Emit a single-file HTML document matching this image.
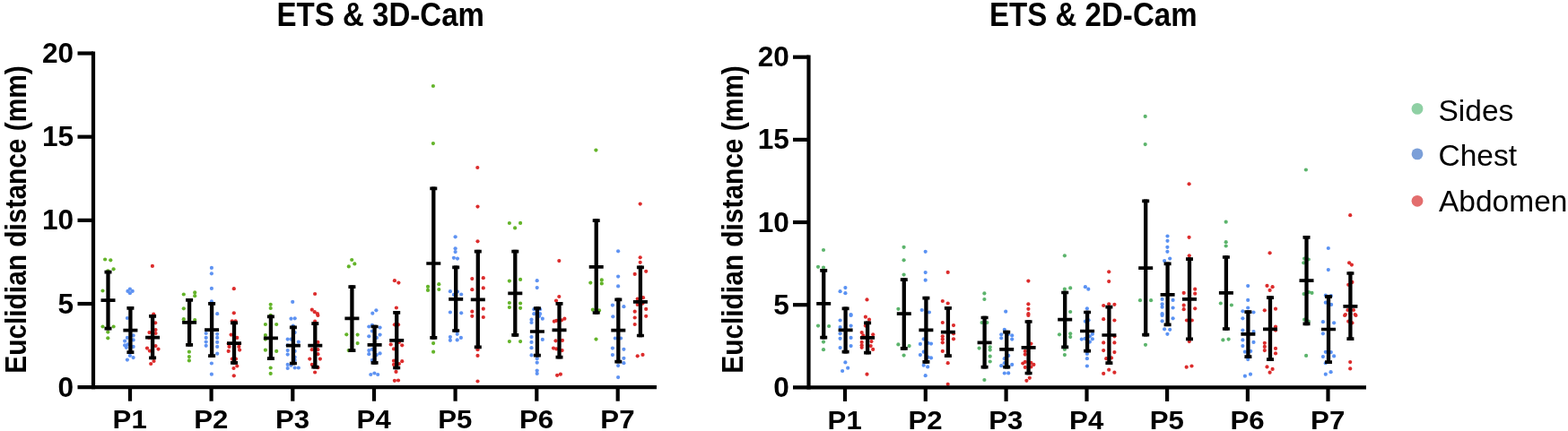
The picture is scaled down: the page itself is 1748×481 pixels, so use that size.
<!DOCTYPE html>
<html lang="en"><head><meta charset="utf-8"><title>ETS &amp; 3D-Cam / ETS &amp; 2D-Cam</title>
<style>html,body{margin:0;padding:0;background:#fff;overflow:hidden}svg{display:block}</style></head>
<body>
<svg width="1748" height="481" viewBox="0 0 1748 481">
<g>
<rect width="1748" height="481" fill="#fff"/>
<g id="left">
<g fill="#64b42a">
<circle cx="114.5" cy="364.5" r="2.1"/>
<circle cx="126.6" cy="364.5" r="2.1"/>
<circle cx="120.3" cy="370.6" r="2.1"/>
<circle cx="120.3" cy="377.3" r="2.1"/>
<circle cx="204.8" cy="356.2" r="2.1"/>
<circle cx="217.2" cy="357.0" r="2.1"/>
<circle cx="210.9" cy="392.7" r="2.1"/>
<circle cx="210.9" cy="398.1" r="2.1"/>
<circle cx="210.9" cy="402.4" r="2.1"/>
<circle cx="295.9" cy="362.0" r="2.1"/>
<circle cx="308.2" cy="362.0" r="2.1"/>
<circle cx="295.9" cy="374.1" r="2.1"/>
<circle cx="295.9" cy="378.6" r="2.1"/>
<circle cx="295.9" cy="390.7" r="2.1"/>
<circle cx="308.2" cy="391.9" r="2.1"/>
<circle cx="301.7" cy="410.5" r="2.1"/>
<circle cx="301.7" cy="416.9" r="2.1"/>
<circle cx="117.1" cy="289.5" r="2.1"/>
<circle cx="123.3" cy="290.3" r="2.1"/>
<circle cx="126.6" cy="300.3" r="2.1"/>
<circle cx="120.3" cy="302.3" r="2.1"/>
<circle cx="114.5" cy="324.5" r="2.1"/>
<circle cx="204.8" cy="328.5" r="2.1"/>
<circle cx="217.2" cy="326.4" r="2.1"/>
<circle cx="217.2" cy="330.2" r="2.1"/>
<circle cx="204.8" cy="344.3" r="2.1"/>
<circle cx="301.7" cy="339.8" r="2.1"/>
<circle cx="301.7" cy="344.0" r="2.1"/>
<circle cx="301.7" cy="351.8" r="2.1"/>
<circle cx="386.3" cy="373.3" r="2.1"/>
<circle cx="398.6" cy="373.6" r="2.1"/>
<circle cx="398.6" cy="383.1" r="2.1"/>
<circle cx="388.7" cy="391.1" r="2.1"/>
<circle cx="483.1" cy="383.1" r="2.1"/>
<circle cx="483.1" cy="392.7" r="2.1"/>
<circle cx="567.9" cy="381.1" r="2.1"/>
<circle cx="580.1" cy="381.1" r="2.1"/>
<circle cx="392.2" cy="290.0" r="2.1"/>
<circle cx="395.3" cy="294.4" r="2.1"/>
<circle cx="388.8" cy="297.4" r="2.1"/>
<circle cx="489.3" cy="317.2" r="2.1"/>
<circle cx="477.0" cy="319.9" r="2.1"/>
<circle cx="477.0" cy="323.9" r="2.1"/>
<circle cx="489.3" cy="323.0" r="2.1"/>
<circle cx="580.1" cy="311.9" r="2.1"/>
<circle cx="567.9" cy="313.6" r="2.1"/>
<circle cx="567.9" cy="338.0" r="2.1"/>
<circle cx="580.1" cy="338.5" r="2.1"/>
<circle cx="567.9" cy="343.0" r="2.1"/>
<circle cx="580.1" cy="343.8" r="2.1"/>
<circle cx="664.5" cy="378.6" r="2.1"/>
<circle cx="670.8" cy="312.4" r="2.1"/>
<circle cx="658.3" cy="315.6" r="2.1"/>
<circle cx="670.8" cy="316.4" r="2.1"/>
<circle cx="660.8" cy="345.7" r="2.1"/>
<circle cx="668.0" cy="346.4" r="2.1"/>
<circle cx="567.9" cy="249.0" r="2.1"/>
<circle cx="580.1" cy="248.9" r="2.1"/>
<circle cx="574.1" cy="254.4" r="2.1"/>
<circle cx="482.9" cy="96" r="2.1"/>
<circle cx="482.9" cy="160.1" r="2.1"/>
<circle cx="664.4" cy="167.6" r="2.1"/>
</g>
<g fill="#5f93f2">
<circle cx="141.9" cy="355.0" r="2.1"/>
<circle cx="148.6" cy="374.4" r="2.1"/>
<circle cx="141.9" cy="376.9" r="2.1"/>
<circle cx="139.1" cy="380.6" r="2.1"/>
<circle cx="148.6" cy="379.4" r="2.1"/>
<circle cx="139.1" cy="385.3" r="2.1"/>
<circle cx="142.4" cy="384.4" r="2.1"/>
<circle cx="148.6" cy="386.9" r="2.1"/>
<circle cx="140.8" cy="387.8" r="2.1"/>
<circle cx="144.9" cy="396.9" r="2.1"/>
<circle cx="148.6" cy="399.1" r="2.1"/>
<circle cx="141.9" cy="401.6" r="2.1"/>
<circle cx="229.7" cy="372.0" r="2.1"/>
<circle cx="242.2" cy="372.8" r="2.1"/>
<circle cx="229.7" cy="376.9" r="2.1"/>
<circle cx="242.2" cy="376.9" r="2.1"/>
<circle cx="229.7" cy="381.6" r="2.1"/>
<circle cx="242.2" cy="381.9" r="2.1"/>
<circle cx="229.7" cy="385.8" r="2.1"/>
<circle cx="242.2" cy="386.9" r="2.1"/>
<circle cx="242.2" cy="394.7" r="2.1"/>
<circle cx="235.9" cy="405.5" r="2.1"/>
<circle cx="235.9" cy="417.7" r="2.1"/>
<circle cx="324.5" cy="355.7" r="2.1"/>
<circle cx="328.7" cy="355.3" r="2.1"/>
<circle cx="326.7" cy="363.6" r="2.1"/>
<circle cx="328.7" cy="371.1" r="2.1"/>
<circle cx="320.7" cy="378.6" r="2.1"/>
<circle cx="324.5" cy="378.6" r="2.1"/>
<circle cx="332.8" cy="381.6" r="2.1"/>
<circle cx="320.7" cy="385.3" r="2.1"/>
<circle cx="320.7" cy="391.1" r="2.1"/>
<circle cx="328.7" cy="391.9" r="2.1"/>
<circle cx="320.7" cy="395.6" r="2.1"/>
<circle cx="328.7" cy="398.6" r="2.1"/>
<circle cx="328.7" cy="401.9" r="2.1"/>
<circle cx="320.7" cy="406.9" r="2.1"/>
<circle cx="324.5" cy="407.7" r="2.1"/>
<circle cx="320.7" cy="411.0" r="2.1"/>
<circle cx="328.7" cy="410.5" r="2.1"/>
<circle cx="332.8" cy="410.5" r="2.1"/>
<circle cx="144.9" cy="322.7" r="2.1"/>
<circle cx="142.4" cy="324.9" r="2.1"/>
<circle cx="147.7" cy="324.9" r="2.1"/>
<circle cx="144.9" cy="327.2" r="2.1"/>
<circle cx="235.9" cy="298.9" r="2.1"/>
<circle cx="235.9" cy="305.3" r="2.1"/>
<circle cx="235.9" cy="321.9" r="2.1"/>
<circle cx="235.9" cy="336.4" r="2.1"/>
<circle cx="242.2" cy="350.2" r="2.1"/>
<circle cx="326.2" cy="336.9" r="2.1"/>
<circle cx="411.3" cy="364.5" r="2.1"/>
<circle cx="423.6" cy="365.6" r="2.1"/>
<circle cx="414.9" cy="362.8" r="2.1"/>
<circle cx="414.9" cy="369.5" r="2.1"/>
<circle cx="423.6" cy="373.6" r="2.1"/>
<circle cx="411.3" cy="375.3" r="2.1"/>
<circle cx="419.9" cy="376.9" r="2.1"/>
<circle cx="411.3" cy="391.1" r="2.1"/>
<circle cx="414.9" cy="389.9" r="2.1"/>
<circle cx="423.6" cy="394.4" r="2.1"/>
<circle cx="411.3" cy="395.2" r="2.1"/>
<circle cx="419.9" cy="396.1" r="2.1"/>
<circle cx="414.9" cy="401.9" r="2.1"/>
<circle cx="413.3" cy="418.0" r="2.1"/>
<circle cx="417.4" cy="416.5" r="2.1"/>
<circle cx="421.2" cy="418.0" r="2.1"/>
<circle cx="509.7" cy="372.8" r="2.1"/>
<circle cx="501.9" cy="376.1" r="2.1"/>
<circle cx="513.9" cy="376.9" r="2.1"/>
<circle cx="501.9" cy="379.8" r="2.1"/>
<circle cx="509.7" cy="379.4" r="2.1"/>
<circle cx="592.5" cy="356.7" r="2.1"/>
<circle cx="592.5" cy="360.0" r="2.1"/>
<circle cx="604.8" cy="355.7" r="2.1"/>
<circle cx="601.2" cy="352.8" r="2.1"/>
<circle cx="592.5" cy="376.1" r="2.1"/>
<circle cx="604.8" cy="378.9" r="2.1"/>
<circle cx="592.5" cy="381.9" r="2.1"/>
<circle cx="592.5" cy="388.2" r="2.1"/>
<circle cx="592.5" cy="396.4" r="2.1"/>
<circle cx="598.7" cy="400.2" r="2.1"/>
<circle cx="598.7" cy="404.7" r="2.1"/>
<circle cx="598.7" cy="413.5" r="2.1"/>
<circle cx="598.7" cy="416.9" r="2.1"/>
<circle cx="419.4" cy="346.3" r="2.1"/>
<circle cx="415.3" cy="349.7" r="2.1"/>
<circle cx="507.6" cy="277.3" r="2.1"/>
<circle cx="507.6" cy="281.1" r="2.1"/>
<circle cx="505.9" cy="287.8" r="2.1"/>
<circle cx="510.0" cy="288.6" r="2.1"/>
<circle cx="501.9" cy="325.2" r="2.1"/>
<circle cx="510.0" cy="325.5" r="2.1"/>
<circle cx="514.2" cy="328.5" r="2.1"/>
<circle cx="505.9" cy="328.9" r="2.1"/>
<circle cx="501.9" cy="348.5" r="2.1"/>
<circle cx="514.2" cy="349.3" r="2.1"/>
<circle cx="598.7" cy="313.2" r="2.1"/>
<circle cx="598.7" cy="321.1" r="2.1"/>
<circle cx="595.3" cy="345.2" r="2.1"/>
<circle cx="602.0" cy="345.2" r="2.1"/>
<circle cx="595.3" cy="350.2" r="2.1"/>
<circle cx="602.0" cy="350.2" r="2.1"/>
<circle cx="683.3" cy="353.3" r="2.1"/>
<circle cx="685.8" cy="377.5" r="2.1"/>
<circle cx="692.1" cy="377.5" r="2.1"/>
<circle cx="682.9" cy="388.6" r="2.1"/>
<circle cx="695.4" cy="389.8" r="2.1"/>
<circle cx="682.9" cy="396.1" r="2.1"/>
<circle cx="695.4" cy="399.8" r="2.1"/>
<circle cx="695.4" cy="405.2" r="2.1"/>
<circle cx="689.1" cy="408.1" r="2.1"/>
<circle cx="689.1" cy="421.1" r="2.1"/>
<circle cx="689.1" cy="280.3" r="2.1"/>
<circle cx="689.1" cy="308.6" r="2.1"/>
<circle cx="689.1" cy="319.4" r="2.1"/>
<circle cx="682.9" cy="340.6" r="2.1"/>
<circle cx="695.4" cy="342.2" r="2.1"/>
<circle cx="507.6" cy="264.3" r="2.1"/>
</g>
<g fill="#dc2c2c">
<circle cx="173.2" cy="360.3" r="2.1"/>
<circle cx="173.5" cy="368.1" r="2.1"/>
<circle cx="166.5" cy="371.1" r="2.1"/>
<circle cx="173.5" cy="372.0" r="2.1"/>
<circle cx="166.2" cy="376.9" r="2.1"/>
<circle cx="173.5" cy="386.1" r="2.1"/>
<circle cx="164.0" cy="388.6" r="2.1"/>
<circle cx="166.9" cy="391.6" r="2.1"/>
<circle cx="176.5" cy="389.6" r="2.1"/>
<circle cx="171.5" cy="403.0" r="2.1"/>
<circle cx="168.2" cy="406.0" r="2.1"/>
<circle cx="258.8" cy="358.3" r="2.1"/>
<circle cx="262.6" cy="358.3" r="2.1"/>
<circle cx="257.6" cy="373.6" r="2.1"/>
<circle cx="264.3" cy="376.9" r="2.1"/>
<circle cx="254.7" cy="383.6" r="2.1"/>
<circle cx="267.1" cy="383.6" r="2.1"/>
<circle cx="255.5" cy="386.9" r="2.1"/>
<circle cx="266.3" cy="386.9" r="2.1"/>
<circle cx="254.7" cy="391.9" r="2.1"/>
<circle cx="267.1" cy="390.6" r="2.1"/>
<circle cx="258.8" cy="400.6" r="2.1"/>
<circle cx="263.0" cy="400.6" r="2.1"/>
<circle cx="264.3" cy="408.5" r="2.1"/>
<circle cx="260.5" cy="411.0" r="2.1"/>
<circle cx="260.8" cy="419.3" r="2.1"/>
<circle cx="351.1" cy="358.7" r="2.1"/>
<circle cx="354.4" cy="352.0" r="2.1"/>
<circle cx="354.4" cy="381.9" r="2.1"/>
<circle cx="347.8" cy="390.2" r="2.1"/>
<circle cx="354.4" cy="390.2" r="2.1"/>
<circle cx="354.4" cy="395.2" r="2.1"/>
<circle cx="345.3" cy="400.6" r="2.1"/>
<circle cx="356.9" cy="400.6" r="2.1"/>
<circle cx="347.8" cy="406.9" r="2.1"/>
<circle cx="354.4" cy="410.2" r="2.1"/>
<circle cx="351.1" cy="415.5" r="2.1"/>
<circle cx="169.9" cy="296.9" r="2.1"/>
<circle cx="171.2" cy="350.5" r="2.1"/>
<circle cx="260.8" cy="322.2" r="2.1"/>
<circle cx="260.8" cy="349.3" r="2.1"/>
<circle cx="351.1" cy="328.0" r="2.1"/>
<circle cx="347.8" cy="345.7" r="2.1"/>
<circle cx="350.8" cy="348.2" r="2.1"/>
<circle cx="353.9" cy="350.2" r="2.1"/>
<circle cx="439.9" cy="362.3" r="2.1"/>
<circle cx="444.0" cy="362.3" r="2.1"/>
<circle cx="435.7" cy="384.4" r="2.1"/>
<circle cx="448.2" cy="385.3" r="2.1"/>
<circle cx="439.0" cy="389.4" r="2.1"/>
<circle cx="444.9" cy="381.9" r="2.1"/>
<circle cx="439.0" cy="402.7" r="2.1"/>
<circle cx="448.2" cy="403.2" r="2.1"/>
<circle cx="439.0" cy="406.9" r="2.1"/>
<circle cx="444.9" cy="406.0" r="2.1"/>
<circle cx="441.5" cy="414.9" r="2.1"/>
<circle cx="439.9" cy="424.8" r="2.1"/>
<circle cx="444.0" cy="424.5" r="2.1"/>
<circle cx="526.3" cy="352.8" r="2.1"/>
<circle cx="538.8" cy="354.0" r="2.1"/>
<circle cx="532.5" cy="390.2" r="2.1"/>
<circle cx="532.5" cy="396.9" r="2.1"/>
<circle cx="532.5" cy="425.5" r="2.1"/>
<circle cx="629.4" cy="355.7" r="2.1"/>
<circle cx="626.1" cy="357.3" r="2.1"/>
<circle cx="617.8" cy="358.7" r="2.1"/>
<circle cx="620.3" cy="357.8" r="2.1"/>
<circle cx="619.5" cy="380.3" r="2.1"/>
<circle cx="626.9" cy="379.9" r="2.1"/>
<circle cx="617.0" cy="388.6" r="2.1"/>
<circle cx="620.3" cy="389.4" r="2.1"/>
<circle cx="626.6" cy="391.1" r="2.1"/>
<circle cx="621.1" cy="418.8" r="2.1"/>
<circle cx="624.9" cy="417.7" r="2.1"/>
<circle cx="439.9" cy="313.2" r="2.1"/>
<circle cx="444.4" cy="315.6" r="2.1"/>
<circle cx="441.9" cy="343.5" r="2.1"/>
<circle cx="526.3" cy="311.1" r="2.1"/>
<circle cx="538.8" cy="310.2" r="2.1"/>
<circle cx="538.8" cy="321.4" r="2.1"/>
<circle cx="526.3" cy="323.2" r="2.1"/>
<circle cx="538.8" cy="344.7" r="2.1"/>
<circle cx="526.3" cy="347.7" r="2.1"/>
<circle cx="623.3" cy="291.1" r="2.1"/>
<circle cx="623.3" cy="331.0" r="2.1"/>
<circle cx="620.0" cy="335.5" r="2.1"/>
<circle cx="707.7" cy="354.5" r="2.1"/>
<circle cx="720.2" cy="352.8" r="2.1"/>
<circle cx="707.7" cy="362.0" r="2.1"/>
<circle cx="710.7" cy="397.3" r="2.1"/>
<circle cx="716.5" cy="395.9" r="2.1"/>
<circle cx="713.7" cy="287.3" r="2.1"/>
<circle cx="713.7" cy="292.8" r="2.1"/>
<circle cx="720.2" cy="302.8" r="2.1"/>
<circle cx="707.7" cy="305.9" r="2.1"/>
<circle cx="710.7" cy="333.6" r="2.1"/>
<circle cx="717.0" cy="332.2" r="2.1"/>
<circle cx="710.7" cy="339.9" r="2.1"/>
<circle cx="716.5" cy="338.6" r="2.1"/>
<circle cx="720.2" cy="344.9" r="2.1"/>
<circle cx="707.7" cy="347.7" r="2.1"/>
<circle cx="532.5" cy="230.6" r="2.1"/>
<circle cx="532.5" cy="269.3" r="2.1"/>
<circle cx="532.3" cy="187" r="2.1"/>
<circle cx="713.7" cy="227.6" r="2.1"/>
</g>
<g stroke="#000" stroke-width="3.7" fill="none">
<path stroke-width="4.3" d="M120.5 301.8V368.4"/><path d="M116.5 303.6h8M116.5 366.6h8M112.5 335.2h16"/>
<path stroke-width="4.3" d="M145.4 342.0V395.0"/><path d="M141.4 343.8h8M141.4 393.2h8M137.4 368.6h16"/>
<path stroke-width="4.3" d="M170.1 351.0V401.2"/><path d="M166.1 352.8h8M166.1 399.4h8M162.1 376.6h16"/>
<path stroke-width="4.3" d="M211.1 333.1V386.6"/><path d="M207.1 334.9h8M207.1 384.8h8M203.1 359.8h16"/>
<path stroke-width="4.3" d="M236.1 337.0V399.0"/><path d="M232.1 338.8h8M232.1 397.2h8M228.1 368.1h16"/>
<path stroke-width="4.3" d="M261.0 358.5V406.7"/><path d="M257.0 360.3h8M257.0 404.9h8M253.0 383.1h16"/>
<path stroke-width="4.3" d="M301.9 351.5V402.0"/><path d="M297.9 353.3h8M297.9 400.2h8M293.9 377.3h16"/>
<path stroke-width="4.3" d="M326.9 363.5V407.3"/><path d="M322.9 365.3h8M322.9 405.5h8M318.9 385.6h16"/>
<path stroke-width="4.3" d="M351.3 359.3V411.5"/><path d="M347.3 361.1h8M347.3 409.7h8M343.3 385.6h16"/>
<path stroke-width="4.3" d="M392.4 318.4V392.9"/><path d="M388.4 320.2h8M388.4 391.1h8M384.4 355.3h16"/>
<path stroke-width="4.3" d="M417.6 362.7V406.7"/><path d="M413.6 364.5h8M413.6 404.9h8M409.6 384.8h16"/>
<path stroke-width="4.3" d="M442.2 347.0V412.3"/><path d="M438.2 348.8h8M438.2 410.5h8M434.2 379.9h16"/>
<path stroke-width="4.3" d="M483.3 208.5V378.7"/><path d="M479.3 210.3h8M479.3 376.9h8M475.3 294h16"/>
<path stroke-width="4.3" d="M508.2 296.5V370.8"/><path d="M504.2 298.3h8M504.2 369h8M500.2 333.9h16"/>
<path stroke-width="4.3" d="M532.8 278.8V389.1"/><path d="M528.8 280.6h8M528.8 387.3h8M524.8 334.4h16"/>
<path stroke-width="4.3" d="M574.3 278.8V375.7"/><path d="M570.3 280.6h8M570.3 373.9h8M566.3 327.4h16"/>
<path stroke-width="4.3" d="M598.9 342.2V398.4"/><path d="M594.9 344h8M594.9 396.6h8M590.9 370h16"/>
<path stroke-width="4.3" d="M623.5 337.0V400.4"/><path d="M619.5 338.8h8M619.5 398.6h8M615.5 368.3h16"/>
<path stroke-width="4.3" d="M664.7 244.3V350.8"/><path d="M660.7 246.1h8M660.7 349h8M656.7 297.8h16"/>
<path stroke-width="4.3" d="M689.3 332.6V405.4"/><path d="M685.3 334.4h8M685.3 403.6h8M681.3 368.6h16"/>
<path stroke-width="4.3" d="M713.9 296.5V376.3"/><path d="M709.9 298.3h8M709.9 374.5h8M705.9 336.9h16"/>
</g>
<g stroke="#000" stroke-width="4.2" fill="none">
<path d="M104 57.40V434.30"/>
<path d="M86.5 432.2H732"/>
<path d="M86.5 339.02H104"/>
<path d="M86.5 245.85H104"/>
<path d="M86.5 152.68H104"/>
<path d="M86.5 59.50H104"/>
<path d="M145 432.2V447.7"/>
<path d="M235.6 432.2V447.7"/>
<path d="M326.3 432.2V447.7"/>
<path d="M417 432.2V447.7"/>
<path d="M507.6 432.2V447.7"/>
<path d="M598.3 432.2V447.7"/>
<path d="M688.7 432.2V447.7"/>
</g>
<g font-family="'Liberation Sans', Arial, Helvetica, sans-serif" font-weight="bold" fill="#000">
<text transform="translate(82.1 442.8) scale(1.04 1.01)" font-size="30.4" text-anchor="end">0</text>
<text transform="translate(82.1 349.62) scale(1.04 1.01)" font-size="30.4" text-anchor="end">5</text>
<text transform="translate(82.1 256.45) scale(1.04 1.01)" font-size="30.4" text-anchor="end">10</text>
<text transform="translate(82.1 163.28) scale(1.04 1.01)" font-size="30.4" text-anchor="end">15</text>
<text transform="translate(82.1 70.1) scale(1.04 1.01)" font-size="30.4" text-anchor="end">20</text>
<text transform="translate(144.7 478.3) scale(1.04 0.985)" font-size="30" text-anchor="middle">P1</text>
<text transform="translate(235.3 478.3) scale(1.04 0.985)" font-size="30" text-anchor="middle">P2</text>
<text transform="translate(326.0 478.3) scale(1.04 0.985)" font-size="30" text-anchor="middle">P3</text>
<text transform="translate(416.7 478.3) scale(1.04 0.985)" font-size="30" text-anchor="middle">P4</text>
<text transform="translate(507.3 478.3) scale(1.04 0.985)" font-size="30" text-anchor="middle">P5</text>
<text transform="translate(598.0 478.3) scale(1.04 0.985)" font-size="30" text-anchor="middle">P6</text>
<text transform="translate(688.4 478.3) scale(1.04 0.985)" font-size="30" text-anchor="middle">P7</text>
<text transform="translate(424.2 28.8) scale(0.945 1.03)" font-size="35" text-anchor="middle">ETS &amp; 3D-Cam</text>
<text transform="translate(29 245) rotate(-90) scale(0.905 1)" font-size="33" text-anchor="middle">Euclidian distance (mm)</text>
</g>
</g>
<g id="right">
<g fill="#5cb46c">
<circle cx="912.0" cy="363.6" r="2.1"/>
<circle cx="924.1" cy="364.0" r="2.1"/>
<circle cx="918.0" cy="381.6" r="2.1"/>
<circle cx="918.0" cy="390.2" r="2.1"/>
<circle cx="1001.4" cy="384.4" r="2.1"/>
<circle cx="1013.6" cy="386.1" r="2.1"/>
<circle cx="1007.6" cy="396.6" r="2.1"/>
<circle cx="1094.6" cy="360.0" r="2.1"/>
<circle cx="1100.4" cy="360.0" r="2.1"/>
<circle cx="1091.6" cy="388.6" r="2.1"/>
<circle cx="1103.7" cy="387.3" r="2.1"/>
<circle cx="1103.7" cy="390.6" r="2.1"/>
<circle cx="1103.7" cy="397.7" r="2.1"/>
<circle cx="1103.7" cy="403.5" r="2.1"/>
<circle cx="1097.4" cy="424.0" r="2.1"/>
<circle cx="1181.0" cy="373.3" r="2.1"/>
<circle cx="1193.2" cy="372.3" r="2.1"/>
<circle cx="1193.2" cy="376.1" r="2.1"/>
<circle cx="1186.9" cy="389.9" r="2.1"/>
<circle cx="1186.9" cy="396.1" r="2.1"/>
<circle cx="918.0" cy="279.0" r="2.1"/>
<circle cx="912.0" cy="297.8" r="2.1"/>
<circle cx="918.0" cy="298.6" r="2.1"/>
<circle cx="1007.6" cy="275.8" r="2.1"/>
<circle cx="1007.6" cy="290.3" r="2.1"/>
<circle cx="1007.6" cy="306.6" r="2.1"/>
<circle cx="1001.4" cy="344.8" r="2.1"/>
<circle cx="1097.4" cy="327.4" r="2.1"/>
<circle cx="1097.4" cy="334.0" r="2.1"/>
<circle cx="1186.9" cy="285.3" r="2.1"/>
<circle cx="1186.9" cy="322.7" r="2.1"/>
<circle cx="1193.2" cy="321.4" r="2.1"/>
<circle cx="1193.2" cy="348.0" r="2.1"/>
<circle cx="1277.0" cy="384.8" r="2.1"/>
<circle cx="1363.4" cy="379.4" r="2.1"/>
<circle cx="1369.6" cy="378.6" r="2.1"/>
<circle cx="1271.0" cy="335.2" r="2.1"/>
<circle cx="1283.1" cy="335.2" r="2.1"/>
<circle cx="1366.7" cy="274.5" r="2.1"/>
<circle cx="1360.8" cy="338.5" r="2.1"/>
<circle cx="1372.9" cy="340.5" r="2.1"/>
<circle cx="1454.1" cy="356.7" r="2.1"/>
<circle cx="1458.8" cy="358.7" r="2.1"/>
<circle cx="1456.1" cy="396.9" r="2.1"/>
<circle cx="1454.1" cy="288.6" r="2.1"/>
<circle cx="1458.8" cy="289.5" r="2.1"/>
<circle cx="1453.3" cy="293.3" r="2.1"/>
<circle cx="1453.6" cy="328.1" r="2.1"/>
<circle cx="1459.1" cy="326.1" r="2.1"/>
<circle cx="1462.5" cy="326.9" r="2.1"/>
<circle cx="1366.7" cy="247.7" r="2.1"/>
<circle cx="1366.7" cy="270.2" r="2.1"/>
<circle cx="1276.7" cy="129.9" r="2.1"/>
<circle cx="1276.7" cy="161.1" r="2.1"/>
<circle cx="1455.9" cy="189.5" r="2.1"/>
</g>
<g fill="#5a92f3">
<circle cx="948.6" cy="352.0" r="2.1"/>
<circle cx="936.6" cy="357.5" r="2.1"/>
<circle cx="936.6" cy="365.0" r="2.1"/>
<circle cx="948.6" cy="363.6" r="2.1"/>
<circle cx="936.6" cy="372.3" r="2.1"/>
<circle cx="948.6" cy="376.9" r="2.1"/>
<circle cx="936.6" cy="377.8" r="2.1"/>
<circle cx="948.6" cy="386.1" r="2.1"/>
<circle cx="936.6" cy="388.1" r="2.1"/>
<circle cx="942.4" cy="404.4" r="2.1"/>
<circle cx="945.2" cy="410.7" r="2.1"/>
<circle cx="939.1" cy="414.0" r="2.1"/>
<circle cx="1029.7" cy="378.3" r="2.1"/>
<circle cx="1025.9" cy="383.9" r="2.1"/>
<circle cx="1038.0" cy="383.6" r="2.1"/>
<circle cx="1034.7" cy="382.8" r="2.1"/>
<circle cx="1029.7" cy="392.7" r="2.1"/>
<circle cx="1025.9" cy="396.1" r="2.1"/>
<circle cx="1038.0" cy="399.4" r="2.1"/>
<circle cx="1034.7" cy="398.6" r="2.1"/>
<circle cx="1029.7" cy="407.7" r="2.1"/>
<circle cx="1034.2" cy="409.4" r="2.1"/>
<circle cx="1031.7" cy="419.2" r="2.1"/>
<circle cx="1119.8" cy="367.8" r="2.1"/>
<circle cx="1116.2" cy="373.3" r="2.1"/>
<circle cx="1128.2" cy="374.4" r="2.1"/>
<circle cx="1124.2" cy="372.8" r="2.1"/>
<circle cx="1116.2" cy="377.3" r="2.1"/>
<circle cx="1128.2" cy="378.6" r="2.1"/>
<circle cx="1124.2" cy="396.9" r="2.1"/>
<circle cx="1119.8" cy="400.2" r="2.1"/>
<circle cx="1116.2" cy="408.2" r="2.1"/>
<circle cx="1128.2" cy="406.9" r="2.1"/>
<circle cx="1119.8" cy="405.2" r="2.1"/>
<circle cx="1124.2" cy="409.4" r="2.1"/>
<circle cx="1119.8" cy="416.5" r="2.1"/>
<circle cx="1124.2" cy="416.4" r="2.1"/>
<circle cx="942.4" cy="321.1" r="2.1"/>
<circle cx="936.6" cy="325.2" r="2.1"/>
<circle cx="942.4" cy="327.2" r="2.1"/>
<circle cx="948.6" cy="351.0" r="2.1"/>
<circle cx="1031.7" cy="280.8" r="2.1"/>
<circle cx="1031.7" cy="304.1" r="2.1"/>
<circle cx="1031.7" cy="312.7" r="2.1"/>
<circle cx="1027.7" cy="346.0" r="2.1"/>
<circle cx="1035.9" cy="348.5" r="2.1"/>
<circle cx="1121.2" cy="347.7" r="2.1"/>
<circle cx="1209.9" cy="358.7" r="2.1"/>
<circle cx="1213.6" cy="357.3" r="2.1"/>
<circle cx="1217.9" cy="372.8" r="2.1"/>
<circle cx="1205.8" cy="378.6" r="2.1"/>
<circle cx="1209.6" cy="377.8" r="2.1"/>
<circle cx="1217.9" cy="378.3" r="2.1"/>
<circle cx="1214.9" cy="375.3" r="2.1"/>
<circle cx="1214.9" cy="381.6" r="2.1"/>
<circle cx="1211.9" cy="394.9" r="2.1"/>
<circle cx="1211.9" cy="400.2" r="2.1"/>
<circle cx="1211.9" cy="408.5" r="2.1"/>
<circle cx="1295.6" cy="352.0" r="2.1"/>
<circle cx="1307.6" cy="355.3" r="2.1"/>
<circle cx="1295.6" cy="358.3" r="2.1"/>
<circle cx="1298.1" cy="367.3" r="2.1"/>
<circle cx="1304.2" cy="367.8" r="2.1"/>
<circle cx="1301.4" cy="372.8" r="2.1"/>
<circle cx="1385.4" cy="355.3" r="2.1"/>
<circle cx="1385.4" cy="368.6" r="2.1"/>
<circle cx="1397.5" cy="370.0" r="2.1"/>
<circle cx="1385.4" cy="379.4" r="2.1"/>
<circle cx="1397.5" cy="381.9" r="2.1"/>
<circle cx="1385.4" cy="386.1" r="2.1"/>
<circle cx="1387.9" cy="392.7" r="2.1"/>
<circle cx="1394.2" cy="391.9" r="2.1"/>
<circle cx="1391.2" cy="401.1" r="2.1"/>
<circle cx="1387.9" cy="419.7" r="2.1"/>
<circle cx="1394.0" cy="417.7" r="2.1"/>
<circle cx="1209.9" cy="320.2" r="2.1"/>
<circle cx="1213.3" cy="322.7" r="2.1"/>
<circle cx="1211.9" cy="344.3" r="2.1"/>
<circle cx="1301.4" cy="275.8" r="2.1"/>
<circle cx="1301.4" cy="280.8" r="2.1"/>
<circle cx="1298.1" cy="291.1" r="2.1"/>
<circle cx="1304.2" cy="288.6" r="2.1"/>
<circle cx="1295.6" cy="333.9" r="2.1"/>
<circle cx="1307.6" cy="334.9" r="2.1"/>
<circle cx="1295.6" cy="339.3" r="2.1"/>
<circle cx="1295.6" cy="342.7" r="2.1"/>
<circle cx="1307.6" cy="343.5" r="2.1"/>
<circle cx="1295.6" cy="350.2" r="2.1"/>
<circle cx="1391.2" cy="319.1" r="2.1"/>
<circle cx="1391.2" cy="334.9" r="2.1"/>
<circle cx="1391.2" cy="343.5" r="2.1"/>
<circle cx="1385.4" cy="347.3" r="2.1"/>
<circle cx="1397.5" cy="348.5" r="2.1"/>
<circle cx="1474.9" cy="359.2" r="2.1"/>
<circle cx="1487.1" cy="360.3" r="2.1"/>
<circle cx="1474.9" cy="372.3" r="2.1"/>
<circle cx="1477.8" cy="392.8" r="2.1"/>
<circle cx="1483.8" cy="393.1" r="2.1"/>
<circle cx="1474.9" cy="398.1" r="2.1"/>
<circle cx="1487.1" cy="397.4" r="2.1"/>
<circle cx="1477.8" cy="405.2" r="2.1"/>
<circle cx="1483.6" cy="415.2" r="2.1"/>
<circle cx="1477.8" cy="417.7" r="2.1"/>
<circle cx="1480.8" cy="277.0" r="2.1"/>
<circle cx="1480.8" cy="301.1" r="2.1"/>
<circle cx="1477.8" cy="329.7" r="2.1"/>
<circle cx="1483.8" cy="330.2" r="2.1"/>
<circle cx="1477.8" cy="337.7" r="2.1"/>
<circle cx="1484.1" cy="339.9" r="2.1"/>
<circle cx="1301.5" cy="263.5" r="2.1"/>
<circle cx="1301.5" cy="268.8" r="2.1"/>
</g>
<g fill="#dc2c2c">
<circle cx="964.9" cy="353.7" r="2.1"/>
<circle cx="969.0" cy="356.7" r="2.1"/>
<circle cx="964.9" cy="363.6" r="2.1"/>
<circle cx="960.7" cy="371.1" r="2.1"/>
<circle cx="973.2" cy="373.3" r="2.1"/>
<circle cx="962.4" cy="374.4" r="2.1"/>
<circle cx="960.7" cy="376.9" r="2.1"/>
<circle cx="960.7" cy="381.9" r="2.1"/>
<circle cx="971.5" cy="381.1" r="2.1"/>
<circle cx="960.7" cy="385.3" r="2.1"/>
<circle cx="960.7" cy="387.8" r="2.1"/>
<circle cx="973.2" cy="389.9" r="2.1"/>
<circle cx="970.7" cy="386.1" r="2.1"/>
<circle cx="966.5" cy="417.7" r="2.1"/>
<circle cx="1050.8" cy="360.0" r="2.1"/>
<circle cx="1063.0" cy="363.1" r="2.1"/>
<circle cx="1063.0" cy="372.3" r="2.1"/>
<circle cx="1050.8" cy="375.3" r="2.1"/>
<circle cx="1050.8" cy="378.6" r="2.1"/>
<circle cx="1063.0" cy="378.3" r="2.1"/>
<circle cx="1050.8" cy="382.3" r="2.1"/>
<circle cx="1050.8" cy="391.9" r="2.1"/>
<circle cx="1056.7" cy="405.2" r="2.1"/>
<circle cx="1056.7" cy="428.8" r="2.1"/>
<circle cx="1146.4" cy="352.0" r="2.1"/>
<circle cx="1149.4" cy="383.6" r="2.1"/>
<circle cx="1142.8" cy="391.9" r="2.1"/>
<circle cx="1142.8" cy="395.6" r="2.1"/>
<circle cx="1140.3" cy="405.5" r="2.1"/>
<circle cx="1152.4" cy="406.9" r="2.1"/>
<circle cx="1142.8" cy="403.9" r="2.1"/>
<circle cx="1149.4" cy="404.9" r="2.1"/>
<circle cx="1142.8" cy="409.9" r="2.1"/>
<circle cx="1149.4" cy="409.4" r="2.1"/>
<circle cx="1147.8" cy="421.8" r="2.1"/>
<circle cx="1144.4" cy="424.8" r="2.1"/>
<circle cx="966.5" cy="334.4" r="2.1"/>
<circle cx="1056.7" cy="303.9" r="2.1"/>
<circle cx="1050.8" cy="336.0" r="2.1"/>
<circle cx="1056.7" cy="338.5" r="2.1"/>
<circle cx="1146.4" cy="313.6" r="2.1"/>
<circle cx="1146.4" cy="339.3" r="2.1"/>
<circle cx="1146.4" cy="344.8" r="2.1"/>
<circle cx="1146.4" cy="350.2" r="2.1"/>
<circle cx="1230.2" cy="356.2" r="2.1"/>
<circle cx="1242.4" cy="357.5" r="2.1"/>
<circle cx="1242.4" cy="375.3" r="2.1"/>
<circle cx="1230.2" cy="382.4" r="2.1"/>
<circle cx="1242.4" cy="382.4" r="2.1"/>
<circle cx="1230.2" cy="391.1" r="2.1"/>
<circle cx="1242.4" cy="393.1" r="2.1"/>
<circle cx="1233.2" cy="400.2" r="2.1"/>
<circle cx="1239.0" cy="399.4" r="2.1"/>
<circle cx="1236.2" cy="412.7" r="2.1"/>
<circle cx="1230.2" cy="416.9" r="2.1"/>
<circle cx="1242.4" cy="415.7" r="2.1"/>
<circle cx="1323.0" cy="357.5" r="2.1"/>
<circle cx="1328.8" cy="357.5" r="2.1"/>
<circle cx="1325.8" cy="381.1" r="2.1"/>
<circle cx="1322.7" cy="409.7" r="2.1"/>
<circle cx="1328.5" cy="408.5" r="2.1"/>
<circle cx="1422.0" cy="364.5" r="2.1"/>
<circle cx="1422.0" cy="368.6" r="2.1"/>
<circle cx="1409.8" cy="382.8" r="2.1"/>
<circle cx="1409.8" cy="386.9" r="2.1"/>
<circle cx="1409.8" cy="391.1" r="2.1"/>
<circle cx="1422.0" cy="388.9" r="2.1"/>
<circle cx="1422.0" cy="394.4" r="2.1"/>
<circle cx="1412.5" cy="409.4" r="2.1"/>
<circle cx="1418.6" cy="411.9" r="2.1"/>
<circle cx="1415.6" cy="415.7" r="2.1"/>
<circle cx="1236.2" cy="303.3" r="2.1"/>
<circle cx="1236.2" cy="314.1" r="2.1"/>
<circle cx="1230.2" cy="341.0" r="2.1"/>
<circle cx="1236.2" cy="339.3" r="2.1"/>
<circle cx="1242.4" cy="339.8" r="2.1"/>
<circle cx="1325.8" cy="285.3" r="2.1"/>
<circle cx="1332.2" cy="322.7" r="2.1"/>
<circle cx="1319.7" cy="326.9" r="2.1"/>
<circle cx="1332.2" cy="327.7" r="2.1"/>
<circle cx="1319.7" cy="340.7" r="2.1"/>
<circle cx="1332.2" cy="344.3" r="2.1"/>
<circle cx="1319.7" cy="345.2" r="2.1"/>
<circle cx="1415.6" cy="282.3" r="2.1"/>
<circle cx="1412.5" cy="318.9" r="2.1"/>
<circle cx="1418.6" cy="320.2" r="2.1"/>
<circle cx="1415.6" cy="323.9" r="2.1"/>
<circle cx="1409.8" cy="346.3" r="2.1"/>
<circle cx="1422.0" cy="344.7" r="2.1"/>
<circle cx="1499.1" cy="352.0" r="2.1"/>
<circle cx="1511.5" cy="352.0" r="2.1"/>
<circle cx="1503.2" cy="358.7" r="2.1"/>
<circle cx="1507.4" cy="360.3" r="2.1"/>
<circle cx="1505.2" cy="404.1" r="2.1"/>
<circle cx="1505.2" cy="411.4" r="2.1"/>
<circle cx="1504.1" cy="293.3" r="2.1"/>
<circle cx="1506.9" cy="295.6" r="2.1"/>
<circle cx="1507.4" cy="314.9" r="2.1"/>
<circle cx="1503.2" cy="317.8" r="2.1"/>
<circle cx="1502.4" cy="346.0" r="2.1"/>
<circle cx="1509.0" cy="346.0" r="2.1"/>
<circle cx="1499.9" cy="351.0" r="2.1"/>
<circle cx="1505.2" cy="350.2" r="2.1"/>
<circle cx="1510.7" cy="351.0" r="2.1"/>
<circle cx="1325.6" cy="205.3" r="2.1"/>
<circle cx="1325.6" cy="264.8" r="2.1"/>
<circle cx="1505.2" cy="240.2" r="2.1"/>
</g>
<g stroke="#000" stroke-width="3.7" fill="none">
<path stroke-width="4.3" d="M918.2 300.1V378.4"/><path d="M914.2 301.9h8M914.2 376.6h8M910.2 338.8h16"/>
<path stroke-width="4.3" d="M942.6 342.5V394.5"/><path d="M938.6 344.3h8M938.6 392.7h8M934.6 368.3h16"/>
<path stroke-width="4.3" d="M967.1 358.5V395.4"/><path d="M963.1 360.3h8M963.1 393.6h8M959.1 376.9h16"/>
<path stroke-width="4.3" d="M1007.8 310.4V390.7"/><path d="M1003.8 312.2h8M1003.8 388.9h8M999.8 350.2h16"/>
<path stroke-width="4.3" d="M1032.4 330.9V405.7"/><path d="M1028.4 332.7h8M1028.4 403.9h8M1024.4 368.3h16"/>
<path stroke-width="4.3" d="M1056.9 342.0V399.0"/><path d="M1052.9 343.8h8M1052.9 397.2h8M1048.9 370.6h16"/>
<path stroke-width="4.3" d="M1097.6 352.7V411.5"/><path d="M1093.6 354.5h8M1093.6 409.7h8M1089.6 382.3h16"/>
<path stroke-width="4.3" d="M1122.2 368.8V411.5"/><path d="M1118.2 370.6h8M1118.2 409.7h8M1114.2 389.9h16"/>
<path stroke-width="4.3" d="M1146.6 357.2V418.3"/><path d="M1142.6 359h8M1142.6 416.5h8M1138.6 387.8h16"/>
<path stroke-width="4.3" d="M1187.2 324.7V389.1"/><path d="M1183.2 326.5h8M1183.2 387.3h8M1179.2 356.7h16"/>
<path stroke-width="4.3" d="M1212.1 346.7V393.4"/><path d="M1208.1 348.5h8M1208.1 391.6h8M1204.1 369.5h16"/>
<path stroke-width="4.3" d="M1236.4 340.9V407.0"/><path d="M1232.4 342.7h8M1232.4 405.2h8M1228.4 374h16"/>
<path stroke-width="4.3" d="M1277.2 222.6V375.4"/><path d="M1273.2 224.4h8M1273.2 373.6h8M1269.2 299.1h16"/>
<path stroke-width="4.3" d="M1301.6 292.6V364.1"/><path d="M1297.6 294.4h8M1297.6 362.3h8M1293.6 328.9h16"/>
<path stroke-width="4.3" d="M1326.0 287.3V380.1"/><path d="M1322.0 289.1h8M1322.0 378.3h8M1318.0 333.9h16"/>
<path stroke-width="4.3" d="M1366.9 285.2V368.8"/><path d="M1362.9 287h8M1362.9 367h8M1358.9 326.9h16"/>
<path stroke-width="4.3" d="M1391.4 346.4V399.9"/><path d="M1387.4 348.2h8M1387.4 398.1h8M1383.4 372.8h16"/>
<path stroke-width="4.3" d="M1416.0 330.4V402.9"/><path d="M1412.0 332.2h8M1412.0 401.1h8M1408.0 367.3h16"/>
<path stroke-width="4.3" d="M1456.5 263.0V363.2"/><path d="M1452.5 264.8h8M1452.5 361.4h8M1448.5 313.2h16"/>
<path stroke-width="4.3" d="M1481.0 329.3V405.9"/><path d="M1477.0 331.1h8M1477.0 404.1h8M1473.0 367.5h16"/>
<path stroke-width="4.3" d="M1505.4 303.2V379.9"/><path d="M1501.4 305h8M1501.4 378.1h8M1497.4 341.9h16"/>
</g>
<g stroke="#000" stroke-width="4.2" fill="none">
<path d="M901.5 61.60V434.50"/>
<path d="M884.0 432.4H1523"/>
<path d="M884.0 340.22H901.5"/>
<path d="M884.0 248.05H901.5"/>
<path d="M884.0 155.88H901.5"/>
<path d="M884.0 63.70H901.5"/>
<path d="M942 432.4V447.9"/>
<path d="M1031.8 432.4V447.9"/>
<path d="M1121.6 432.4V447.9"/>
<path d="M1211.5 432.4V447.9"/>
<path d="M1301.1 432.4V447.9"/>
<path d="M1390.9 432.4V447.9"/>
<path d="M1480.5 432.4V447.9"/>
</g>
<g font-family="'Liberation Sans', Arial, Helvetica, sans-serif" font-weight="bold" fill="#000">
<text transform="translate(879.8 443.0) scale(1.04 1.01)" font-size="30.4" text-anchor="end">0</text>
<text transform="translate(879.8 350.82) scale(1.04 1.01)" font-size="30.4" text-anchor="end">5</text>
<text transform="translate(879.8 258.65) scale(1.04 1.01)" font-size="30.4" text-anchor="end">10</text>
<text transform="translate(879.8 166.47) scale(1.04 1.01)" font-size="30.4" text-anchor="end">15</text>
<text transform="translate(879.8 74.3) scale(1.04 1.01)" font-size="30.4" text-anchor="end">20</text>
<text transform="translate(941.7 478.5) scale(1.04 0.985)" font-size="30" text-anchor="middle">P1</text>
<text transform="translate(1031.5 478.5) scale(1.04 0.985)" font-size="30" text-anchor="middle">P2</text>
<text transform="translate(1121.3 478.5) scale(1.04 0.985)" font-size="30" text-anchor="middle">P3</text>
<text transform="translate(1211.2 478.5) scale(1.04 0.985)" font-size="30" text-anchor="middle">P4</text>
<text transform="translate(1300.8 478.5) scale(1.04 0.985)" font-size="30" text-anchor="middle">P5</text>
<text transform="translate(1390.6 478.5) scale(1.04 0.985)" font-size="30" text-anchor="middle">P6</text>
<text transform="translate(1480.2 478.5) scale(1.04 0.985)" font-size="30" text-anchor="middle">P7</text>
<text transform="translate(1218.8 28.8) scale(0.945 1.03)" font-size="35" text-anchor="middle">ETS &amp; 2D-Cam</text>
<text transform="translate(828 245) rotate(-90) scale(0.905 1)" font-size="33" text-anchor="middle">Euclidian distance (mm)</text>
</g>
</g>
<g font-family="'Liberation Sans', Arial, Helvetica, sans-serif" font-size="33.5" fill="#000">
<circle cx="1580" cy="121.4" r="6.4" fill="#8fd0a4"/><text x="1603.5" y="134.5">Sides</text>
<circle cx="1580" cy="171.9" r="6.4" fill="#7b9fd8"/><text x="1603.5" y="185.1">Chest</text>
<circle cx="1580" cy="224.3" r="6.4" fill="#e36d6d"/><text x="1604" y="235.8">Abdomen</text>
</g>
</g>
</svg>
</body></html>
